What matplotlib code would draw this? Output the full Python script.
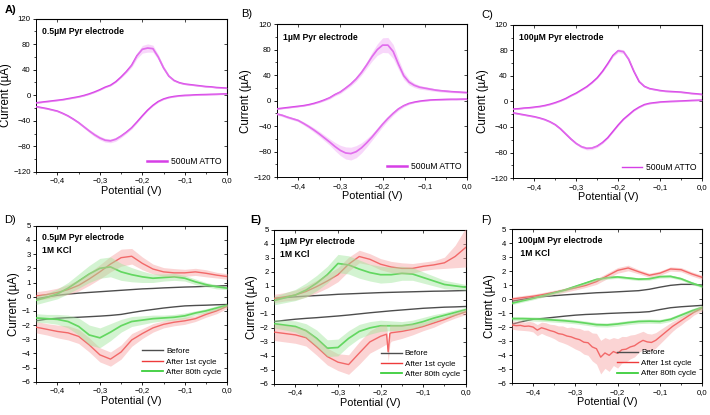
import numpy as np
import matplotlib.pyplot as plt
from matplotlib.ticker import MultipleLocator

plt.rcParams['font.family'] = ['Liberation Sans', 'DejaVu Sans']

# potential grids (V); both branches are listed left -> right
pot_fine = [-0.45, -0.4375, -0.425, -0.4125, -0.4, -0.3875, -0.375, -0.3625, -0.35, -0.3375,
            -0.325, -0.3125, -0.3, -0.2875, -0.275, -0.2625, -0.25, -0.2375, -0.225, -0.2125,
            -0.2, -0.1875, -0.175, -0.1625, -0.15, -0.1375, -0.125, -0.1125, -0.1, -0.0875,
            -0.075, -0.0625, -0.05, -0.0375, -0.025, -0.0125, 0.0]
pot = [-0.45, -0.425, -0.4, -0.375, -0.35, -0.325, -0.3, -0.275, -0.25, -0.225,
       -0.2, -0.175, -0.15, -0.125, -0.1, -0.075, -0.05, -0.025, 0.0]

# ---- top row: 500uM ATTO (uA)
a_up = [-12, -11, -10, -9, -8, -7, -5.5, -4, -2.5, -0.5, 2, 5, 8.5, 12.5, 15.5, 21, 28.5, 37, 47,
        62, 72, 74, 73, 60, 43, 30, 23, 19.5, 17.5, 16.5, 15.5, 14.5, 13.5, 13, 12, 11.5, 11]
a_dn = [-18, -19.5, -21, -23, -25, -28.5, -32.5, -37.5, -43, -49.5, -56, -62, -67, -70.5, -71.5,
        -69, -64, -58, -51, -42, -32.5, -23.5, -16, -10, -6, -3.5, -2, -1, -0.3, 0, 0.5, 0.8,
        1, 1.3, 1.5, 1.8, 2]
a_up_sd = [1] * 16 + [1.5, 2, 3, 4.5, 6, 6.5, 5.5, 4, 3, 2] + [1] * 11
a_dn_sd = [1] * 8 + [1.5, 2, 2.5, 3, 3, 3, 3, 3, 2.5, 2, 2, 1.5] + [1] * 17

b_up = [-13, -12, -11, -10, -9, -8, -6.5, -4.5, -2, 1, 4.5, 9.5, 13.5, 19.5, 26, 34, 44, 56, 69,
        80, 87, 87, 77, 57, 39, 29, 24, 21, 19.5, 18, 16.5, 15.5, 14.8, 14, 13.5, 13, 12.5]
b_dn = [-21, -23, -26, -28.5, -31, -35.5, -40.5, -46, -52, -58.5, -65, -72, -78, -82, -83, -80,
        -74, -66, -57, -47, -37, -28, -20, -13, -8, -4.5, -2.5, -1, 0, 0.8, 1.2, 1.5, 1.8, 2,
        2, 2.2, 2.3]
b_up_sd = [1] * 8 + [1.5, 1.5, 2, 2, 2.5, 2.5, 3, 3.5, 4, 5, 7, 9, 11.5, 12, 11, 8, 6, 4.5, 3.5,
                     3, 2.5, 2.5, 2, 2, 2, 1.5, 1.5, 1, 1]
b_dn_sd = [2, 2, 2, 2, 2, 2.5, 3, 3.5, 4, 4.5, 5, 6.5, 8, 9.5, 10, 9.5, 8, 6.5, 5, 4.5, 4, 3.5,
           3, 2.5, 2, 1.5] + [1] * 11

c_up = [-12, -11.5, -10.5, -10, -9, -8, -6.5, -4.5, -2, 1, 4.5, 9, 13, 18, 23, 29.5, 37, 47, 59,
        72, 79.5, 78, 66, 47, 31, 23.5, 20, 18.5, 17, 16, 15.5, 15, 14.5, 13.5, 12.5, 11.8, 11]
c_dn = [-18, -19.5, -21, -22.5, -24, -26, -28.5, -32, -36.5, -43, -51, -59, -66, -71, -73.5, -73,
        -70, -64.5, -57, -47, -37, -28, -21, -14, -9, -5, -3, -2, -1, -0.5, 0, 0.3, 0.6, 1, 1.5,
        1.8, 2]
c_up_sd = [1] * 18 + [1.5, 2, 3, 3, 2, 1.5] + [1] * 13
c_dn_sd = [1] * 12 + [1.5, 2, 2.5, 2.5, 2, 1.5] + [1] * 19

# ---- bottom row: 1M KCl (uA)
d_before_up = [-0.15, -0.02, 0.1, 0.18, 0.25, 0.3, 0.35, 0.4, 0.45, 0.5, 0.55, 0.58, 0.62, 0.65, 0.68, 0.7, 0.73, 0.75, 0.78]
d_before_dn = [-1.7, -1.58, -1.52, -1.48, -1.45, -1.41, -1.37, -1.32, -1.25, -1.12, -1.0, -0.9, -0.8, -0.72, -0.65, -0.62, -0.6, -0.57, -0.55]
d_first_up = [0.05, 0.15, 0.3, 0.5, 0.8, 1.25, 1.75, 2.3, 2.75, 2.85, 2.35, 1.95, 1.75, 1.68, 1.68, 1.75, 1.65, 1.52, 1.42]
d_first_dn = [-2.15, -2.3, -2.45, -2.55, -2.8, -3.4, -4.1, -4.4, -3.9, -3.05, -2.6, -2.2, -1.95, -1.8, -1.7, -1.55, -1.25, -1.0, -0.67]
d_80_up = [-0.25, -0.05, 0.2, 0.6, 1.1, 1.6, 2.0, 2.1, 1.75, 1.55, 1.4, 1.3, 1.35, 1.4, 1.3, 1.05, 0.85, 0.7, 0.6]
d_80_dn = [-1.5, -1.55, -1.6, -1.75, -2.1, -2.7, -2.9, -2.5, -2.05, -1.75, -1.65, -1.55, -1.5, -1.45, -1.35, -1.15, -1.0, -0.8, -0.6]
d_first_up_sd = [0.3, 0.3, 0.3, 0.35, 0.4, 0.45, 0.5, 0.55, 0.6, 0.55, 0.45, 0.35, 0.3, 0.3, 0.25, 0.25, 0.25, 0.2, 0.2]
d_first_dn_sd = [0.4, 0.4, 0.45, 0.5, 0.5, 0.5, 0.5, 0.5, 0.5, 0.45, 0.35, 0.3, 0.25, 0.25, 0.25, 0.2, 0.2, 0.2, 0.15]
d_80_up_sd = [0.3, 0.3, 0.35, 0.4, 0.5, 0.6, 0.7, 0.7, 0.6, 0.5, 0.4, 0.3, 0.25, 0.25, 0.2, 0.2, 0.15, 0.15, 0.1]
d_80_dn_sd = [0.3, 0.3, 0.35, 0.45, 0.6, 0.7, 0.7, 0.6, 0.45, 0.35, 0.3, 0.25, 0.2, 0.2, 0.2, 0.15, 0.15, 0.15, 0.1]

e_before_up = [0.1, 0.16, 0.22, 0.27, 0.31, 0.35, 0.4, 0.43, 0.46, 0.49, 0.52, 0.54, 0.56, 0.58, 0.6, 0.62, 0.63, 0.65, 0.67]
e_before_dn = [-1.55, -1.46, -1.38, -1.32, -1.27, -1.21, -1.15, -1.08, -1.0, -0.92, -0.85, -0.78, -0.72, -0.66, -0.6, -0.56, -0.52, -0.5, -0.47]
e_first_up = [0.1, 0.22, 0.35, 0.6, 0.95, 1.35, 1.8, 2.55, 3.1, 2.9, 2.55, 2.35, 2.25, 2.25, 2.4, 2.5, 2.65, 3.1, 3.75]
e_first_dn_pot = [-0.45, -0.425, -0.4, -0.375, -0.35, -0.325, -0.3, -0.275, -0.25, -0.225, -0.2,
                  -0.186, -0.182, -0.178, -0.175, -0.15, -0.125, -0.1, -0.075, -0.05, -0.025, 0.0]
e_first_dn = [-2.3, -2.4, -2.5, -2.7, -3.35, -4.05, -4.45, -4.62, -3.8, -3.0, -2.6,
              -2.45, -3.7, -2.4, -2.35, -2.25, -2.1, -1.9, -1.65, -1.4, -1.1, -0.85]
e_80_up = [-0.05, 0.15, 0.35, 0.7, 1.2, 1.8, 2.6, 2.5, 2.2, 1.95, 1.8, 1.8, 1.9, 1.85, 1.6, 1.35, 1.1, 1.0, 0.9]
e_80_dn = [-1.7, -1.8, -1.9, -2.2, -2.75, -3.45, -3.4, -2.75, -2.25, -2.0, -1.85, -1.85, -1.85, -1.75, -1.55, -1.3, -1.1, -0.9, -0.7]
e_first_up_sd = [0.3, 0.3, 0.35, 0.4, 0.45, 0.5, 0.5, 0.5, 0.45, 0.4, 0.4, 0.4, 0.4, 0.35, 0.3, 0.3, 0.4, 0.8, 1.4]
e_first_dn_sd = [0.6, 0.6, 0.6, 0.6, 0.6, 0.6, 0.6, 0.7, 0.8, 0.8, 0.8,
                 0.7, 0.7, 0.7, 0.6, 0.5, 0.4, 0.3, 0.3, 0.2, 0.2, 0.2]
e_80_up_sd = [0.3, 0.35, 0.4, 0.5, 0.55, 0.6, 0.65, 0.65, 0.65, 0.6, 0.6, 0.55, 0.5, 0.45, 0.4, 0.35, 0.3, 0.25, 0.2]
e_80_dn_sd = [0.3, 0.35, 0.4, 0.5, 0.6, 0.6, 0.6, 0.55, 0.5, 0.45, 0.4, 0.35, 0.3, 0.3, 0.3, 0.25, 0.2, 0.2, 0.15]

f_before_up = [-0.15, -0.02, 0.1, 0.18, 0.24, 0.3, 0.35, 0.4, 0.45, 0.48, 0.52, 0.56, 0.6, 0.7, 0.85, 0.98, 1.05, 1.05, 1.0]
f_before_dn = [-1.8, -1.6, -1.45, -1.38, -1.3, -1.22, -1.15, -1.1, -1.07, -1.03, -1.0, -0.97, -0.95, -0.9, -0.75, -0.62, -0.55, -0.5, -0.45]
f_first_up = [0.0, 0.1, 0.2, 0.33, 0.48, 0.63, 0.8, 0.98, 1.25, 1.65, 2.05, 2.22, 1.95, 1.7, 1.85, 2.15, 2.1, 1.8, 1.55]
f_first_dn_pot = [-0.45, -0.44, -0.43, -0.42, -0.41, -0.4, -0.39, -0.38, -0.37, -0.36, -0.35, -0.34,
                  -0.33, -0.32, -0.31, -0.3, -0.29, -0.28, -0.27, -0.26, -0.25, -0.24, -0.23,
                  -0.22, -0.21, -0.2, -0.19, -0.18, -0.17, -0.16, -0.15, -0.14, -0.13, -0.12,
                  -0.11, -0.1, -0.09, -0.08, -0.07, -0.06, -0.05, -0.04, -0.03, -0.02, -0.01, 0.0]
f_first_dn = [-1.85, -1.9, -1.88, -1.95, -1.93, -2.0, -2.22, -2.05, -2.14, -2.25, -2.33, -2.47,
              -2.52, -2.64, -2.7, -2.82, -2.9, -3.08, -3.12, -3.42, -3.55, -4.15, -3.85,
              -4.02, -3.75, -3.88, -3.62, -3.58, -3.42, -3.33, -3.12, -2.95, -3.06, -3.1,
              -2.95, -2.7, -2.45, -2.2, -1.95, -1.75, -1.55, -1.35, -1.15, -0.95, -0.8, -0.65]
f_first_dn_sd = [0.3, 0.3, 0.35, 0.3, 0.35, 0.35, 0.4, 0.4, 0.45, 0.45, 0.5, 0.55,
                 0.6, 0.6, 0.7, 0.75, 0.8, 0.85, 0.9, 1.0, 1.1, 1.2, 1.1,
                 1.15, 1.0, 1.05, 0.95, 0.9, 0.85, 0.8, 0.7, 0.65, 0.6, 0.6,
                 0.55, 0.5, 0.45, 0.4, 0.35, 0.3, 0.3, 0.25, 0.25, 0.2, 0.2, 0.2]
f_80_up = [-0.3, -0.12, 0.05, 0.25, 0.45, 0.65, 0.9, 1.15, 1.4, 1.52, 1.58, 1.5, 1.42, 1.45, 1.6, 1.62, 1.45, 1.15, 0.9]
f_80_dn = [-1.4, -1.4, -1.42, -1.45, -1.5, -1.55, -1.62, -1.72, -1.83, -1.85, -1.78, -1.68, -1.6, -1.58, -1.6, -1.45, -1.15, -0.85, -0.6]
f_first_up_sd = [0.15, 0.15, 0.15, 0.15, 0.15, 0.15, 0.15, 0.15, 0.2, 0.2, 0.2, 0.2, 0.15, 0.15, 0.15, 0.15, 0.15, 0.15, 0.15]
f_80_up_sd = [0.1] * 19
f_80_dn_sd = [0.15] * 19

magenta, magenta_band = '#d63fe6', '#f0a8f6'
red, red_band = '#ee3b3b', '#f7a0a0'
green, green_band = '#33cc33', '#9fe69a'
gray = '#4d4d4d'


def branch(ax, x, y, sd, color, band, label=None, lw=1.0):
    x, y = np.asarray(x), np.asarray(y)
    ax.plot(x, y, color=color, lw=lw, label=label, zorder=3, solid_joinstyle='round')
    if sd is not None:
        sd = np.asarray(sd)
        ax.fill_between(x, y - sd, y + sd, color=band, alpha=0.45, lw=0, zorder=4)


def style(ax, ylim, ymin, yticks):
    ax.set_xlim(-0.45, 0.0)
    ax.set_ylim(*ylim)
    ax.set_xticks([-0.4, -0.3, -0.2, -0.1, 0.0])
    ax.set_xticklabels(['\u22120,4', '\u22120,3', '\u22120,2', '\u22120,1', '0,0'])
    ax.xaxis.set_minor_locator(MultipleLocator(0.05))
    ax.set_yticks(yticks)
    ax.set_yticklabels([str(t).replace('-', '\u2212') for t in yticks])
    if ymin:
        ax.yaxis.set_minor_locator(MultipleLocator(ymin))
    ax.tick_params(which='major', direction='out', length=2.5, width=0.6, labelsize=5.6, pad=1.5)
    ax.tick_params(which='minor', direction='out', length=1.5, width=0.5)
    for s in ax.spines.values():
        s.set_linewidth(0.7)
    top = ax.secondary_xaxis('top')
    top.set_xticks(ax.get_xticks())
    top.tick_params(direction='in', length=2, width=0.5, labeltop=False)
    right = ax.secondary_yaxis('right')
    right.set_yticks(yticks)
    right.tick_params(direction='in', length=2, width=0.5, labelright=False)
    ax.set_xlabel('Potential (V)', fontsize=7.8, labelpad=1)
    ax.set_ylabel('Current (\u00b5A)', fontsize=8.3, labelpad=1)


fig = plt.figure(figsize=(7.1, 4.15), dpi=100)

top_rects = [[0.051, 0.586, 0.269, 0.369], [0.390, 0.573, 0.268, 0.369], [0.723, 0.571, 0.266, 0.369]]
bot_rects = [[0.051, 0.080, 0.269, 0.376], [0.386, 0.075, 0.270, 0.371], [0.721, 0.077, 0.268, 0.371]]

top_data = [(a_up, a_dn, a_up_sd, a_dn_sd), (b_up, b_dn, b_up_sd, b_dn_sd), (c_up, c_dn, c_up_sd, c_dn_sd)]
top_titles = ['0.5\u00b5M Pyr electrode', '1\u00b5M Pyr electrode', '100\u00b5M Pyr electrode']
letters_top = [('A)', 'bold', 0.006, 0.977), ('B)', 'normal', 0.340, 0.967), ('C)', 'normal', 0.678, 0.965)]

ytk = [-120, -80, -40, 0, 40, 80, 120]
for i, (rect, (up, dn, usd, dsd)) in enumerate(zip(top_rects, top_data)):
    ax = fig.add_axes(rect)
    branch(ax, pot_fine, up, usd, magenta, magenta_band, label='500uM ATTO', lw=1.25)
    branch(ax, pot_fine, dn, dsd, magenta, magenta_band, lw=1.25)
    style(ax, (-120, 120), 20, ytk)
    ax.text(0.03, 0.915, top_titles[i], transform=ax.transAxes, fontsize=6.2,
            fontweight='bold', va='center', ha='left')
    leg = ax.legend(loc='lower right', frameon=False, fontsize=6.2, handlelength=2.3,
                    borderaxespad=0.3, handletextpad=0.4)
    for h in leg.get_lines():
        h.set_linewidth(1.8 if i < 2 else 1.0)
    lt, fw, lx, ly = letters_top[i]
    fig.text(lx, ly, lt, fontsize=8, fontweight=fw, va='center')

bot_series = [
    dict(bu=d_before_up, bd=d_before_dn, ru=d_first_up, rdp=pot, rd=d_first_dn, ru_sd=d_first_up_sd,
         rd_sd=d_first_dn_sd, gu=d_80_up, gd=d_80_dn, gu_sd=d_80_up_sd, gd_sd=d_80_dn_sd),
    dict(bu=e_before_up, bd=e_before_dn, ru=e_first_up, rdp=e_first_dn_pot, rd=e_first_dn, ru_sd=e_first_up_sd,
         rd_sd=e_first_dn_sd, gu=e_80_up, gd=e_80_dn, gu_sd=e_80_up_sd, gd_sd=e_80_dn_sd),
    dict(bu=f_before_up, bd=f_before_dn, ru=f_first_up, rdp=f_first_dn_pot, rd=f_first_dn, ru_sd=f_first_up_sd,
         rd_sd=f_first_dn_sd, gu=f_80_up, gd=f_80_dn, gu_sd=f_80_up_sd, gd_sd=f_80_dn_sd),
]
bot_titles = [('0.5\u00b5M Pyr electrode', '1M KCl'), ('1\u00b5M Pyr electrode', '1M KCl'),
              ('100\u00b5M Pyr electrode', ' 1M KCl')]
letters_bot = [('D)', 'normal', 0.006, 0.470), ('E)', 'bold', 0.352, 0.470), ('F)', 'normal', 0.678, 0.470)]
ytk2 = [-6, -5, -4, -3, -2, -1, 0, 1, 2, 3, 4, 5]

for i, (rect, s) in enumerate(zip(bot_rects, bot_series)):
    ax = fig.add_axes(rect)
    branch(ax, pot, s['bu'], None, gray, None, label='Before', lw=1.0)
    branch(ax, pot, s['bd'], None, gray, None, lw=1.0)
    branch(ax, pot, s['ru'], s['ru_sd'], red, red_band, label='After 1st cycle', lw=1.0)
    branch(ax, s['rdp'], s['rd'], s['rd_sd'], red, red_band, lw=1.0)
    branch(ax, pot, s['gu'], s['gu_sd'], green, green_band, label='After 80th cycle', lw=1.25)
    branch(ax, pot, s['gd'], s['gd_sd'], green, green_band, lw=1.25)
    style(ax, (-6, 5), None, ytk2)
    t1, t2 = bot_titles[i]
    ax.text(0.03, 0.925, t1, transform=ax.transAxes, fontsize=6.2, fontweight='bold', va='center')
    ax.text(0.03, 0.84, t2, transform=ax.transAxes, fontsize=6.2, fontweight='bold', va='center')
    leg = ax.legend(loc='lower right', frameon=False, fontsize=5.8, handlelength=2.6,
                    borderaxespad=0.3, handletextpad=0.4, labelspacing=0.35)
    lt, fw, lx, ly = letters_bot[i]
    fig.text(lx, ly, lt, fontsize=8, fontweight=fw, va='center')

fig.savefig('out.png', dpi=100)
